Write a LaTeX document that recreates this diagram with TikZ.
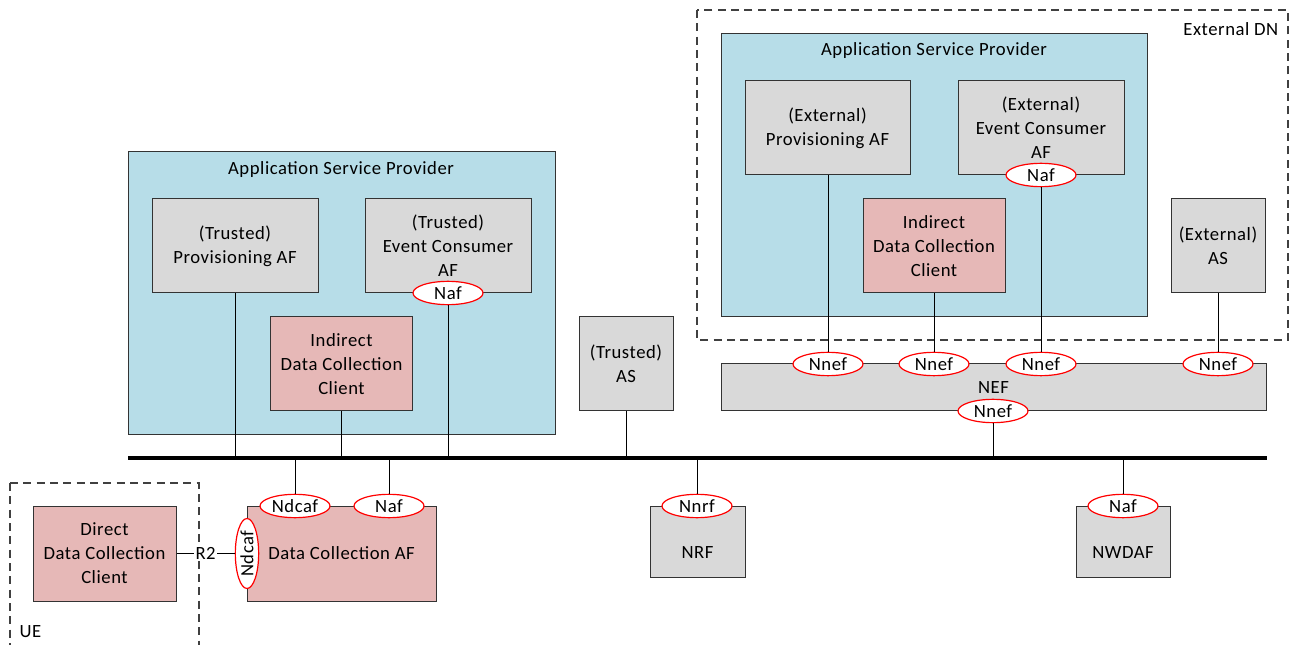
\documentclass[tikz,border=0pt]{standalone}
\usepackage{fontspec}
\setmainfont{Carlito}[LetterSpace=3]
\usetikzlibrary{shapes.geometric}

\definecolor{aspblue}{RGB}{183,221,232}
\definecolor{nfgray}{RGB}{217,217,217}
\definecolor{dcpink}{RGB}{230,184,183}

\tikzset{
  box/.style={draw=black!80, line width=0.75pt, align=center, inner sep=0pt},
  nfbox/.style={box, fill=nfgray},
  dcbox/.style={box, fill=dcpink},
  aspbox/.style={box, fill=aspblue},
  refpt/.style={ellipse, draw=red, fill=white, line width=0.9pt, minimum width=52.5pt, minimum height=17.5pt, inner sep=0pt},
  link/.style={line width=0.75pt},
  busline/.style={line width=3pt},
  dnframe/.style={draw=black!75, line width=0.9pt, dash pattern=on 6pt off 4pt}
}

\begin{document}
\begin{tikzpicture}[x=0.75pt, y=-0.75pt, font=\fontsize{14}{18}\selectfont]
			%%%%% FRAME %%%%%
			\useasboundingbox (0,0) rectangle (1290,645);
			
			%%%%% EXTERNAL DN %%%%%
			\draw[dnframe] (697,10) rectangle (1288,340);
			\node[anchor=east] (extdn) at (1283,29) {External DN};
			
			\node[aspbox, minimum width=319.5pt, minimum height=212.25pt] (aspR) at (934,175.5) {};
			\node (aspRt) at (934,51) {Application Service Provider};
			\node[nfbox, minimum width=123.75pt, minimum height=70.5pt] (eprov) at (827.5,128) {(External)\\Provisioning AF};
			\node[nfbox, minimum width=124.5pt, minimum height=70.5pt] (eevt) at (1041,128) {(External)\\Event Consumer\\AF};
			\node[dcbox, minimum width=106.5pt, minimum height=70.5pt] (idcR) at (934,246) {Indirect\\Data Collection\\Client};
			\node[nfbox, minimum width=70.5pt, minimum height=70.5pt] (eas) at (1218,246) {(External)\\AS};
			
			\node[nfbox, minimum width=408.75pt, minimum height=35.25pt] (nef) at (993.5,387.5) {NEF};
			
			%%%%% TRUSTED DOMAIN %%%%%
			\node[aspbox, minimum width=320.25pt, minimum height=212.25pt] (aspL) at (341.5,293.5) {};
			\node (aspLt) at (341,170) {Application Service Provider};
			\node[nfbox, minimum width=124.5pt, minimum height=70.5pt] (tprov) at (235,246) {(Trusted)\\Provisioning AF};
			\node[nfbox, minimum width=124.5pt, minimum height=70.5pt] (tevt) at (448,246) {(Trusted)\\Event Consumer\\AF};
			\node[dcbox, minimum width=106.5pt, minimum height=70.5pt] (idcL) at (341.5,364) {Indirect\\Data Collection\\Client};
			\node[nfbox, minimum width=70.5pt, minimum height=70.5pt] (tas) at (626,364) {(Trusted)\\AS};
			
			%%%%% 5GC %%%%%
			\node[dcbox, minimum width=141.75pt, minimum height=71.25pt] (dcaf) at (341.5,553.5) {Data Collection AF};
			\node[nfbox, minimum width=71.25pt, minimum height=53.25pt, label={[yshift=-8.5pt]center:NRF}] (nrf) at (697.5,541.5) {};
			\node[nfbox, minimum width=70.5pt, minimum height=53.25pt, label={[yshift=-8.5pt]center:NWDAF}] (nwdaf) at (1123,541.5) {};
			
			%%%%% UE %%%%%
			\draw[dnframe] (10,483) -- (199,483) -- (199,650) (10,483) -- (10,650);
			\node[anchor=west] (uet) at (15,632) {UE};
			\node[dcbox, minimum width=107.25pt, minimum height=71.25pt] (dclient) at (104.5,553.5) {Direct\\Data Collection\\Client};
			
			%%%%% REFERENCE POINTS %%%%%
			\node[refpt] (nafL) at (448,293) {Naf};
			\node[refpt] (nafE) at (1041,175) {Naf};
			\node[refpt] (nnef1) at (828,364) {Nnef};
			\node[refpt] (nnef2) at (934,364) {Nnef};
			\node[refpt] (nnef3) at (1041,364) {Nnef};
			\node[refpt] (nnef4) at (1218,364) {Nnef};
			\node[refpt] (nnefB) at (993,411) {Nnef};
			\node[refpt] (ndcafT) at (295,506) {Ndcaf};
			\node[refpt] (nafD) at (389,506) {Naf};
			\node[refpt, rotate=90] (ndcafS) at (247,553.5) {Ndcaf};
			\node[refpt] (nnrf) at (697,506) {Nnrf};
			\node[refpt] (nafN) at (1123,506) {Naf};
			
			%%%%% BUS %%%%%
			\coordinate (busW) at (128,458);
			\coordinate (busE) at (1267,458);
			\draw[busline] (busW) -- (busE);
			
			%%%%% LINKS %%%%%
			\draw[link] (tprov.south) -- (tprov.south |- busW);
			\draw[link] (idcL.south) -- (idcL.south |- busW);
			\draw[link] (nafL.south) -- (nafL.south |- busW);
			\draw[link] (tas.south) -- (tas.south |- busW);
			\draw[link] (nnefB.south) -- (nnefB.south |- busW);
			\draw[link] (ndcafT.north |- busW) -- (ndcafT.north);
			\draw[link] (nafD.north |- busW) -- (nafD.north);
			\draw[link] (nnrf.north |- busW) -- (nnrf.north);
			\draw[link] (nafN.north |- busW) -- (nafN.north);
			
			\draw[link] (nnef1.north |- eprov.south) -- (nnef1.north);
			\draw[link] (idcR.south) -- (nnef2.north);
			\draw[link] (nafE.south) -- (nnef3.north);
			\draw[link] (eas.south) -- (nnef4.north);
			
			\draw[link] (dclient) -- node[fill=white, inner sep=1pt] (r2) {R2} (ndcafS);
			
			%%%%% END %%%%%
\end{tikzpicture}
\end{document}
